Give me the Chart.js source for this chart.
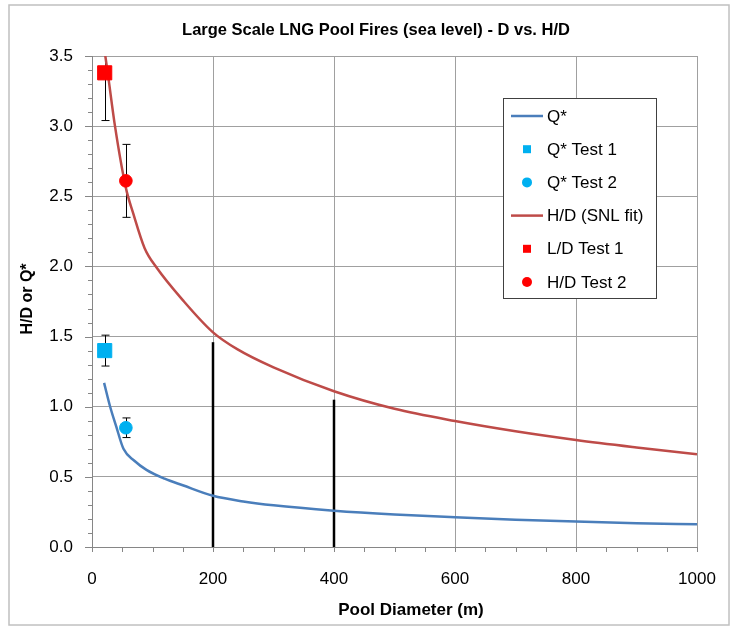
<!DOCTYPE html>
<html>
<head>
<meta charset="utf-8">
<script src="https://cdn.jsdelivr.net/npm/chart.js@4.4.0/dist/chart.umd.min.js"></script>
<style>
  html, body { margin: 0; padding: 0; background: #fff; }
  #marco { position: relative; width: 736px; height: 629px; }
</style>
</head>
<body>
<div id="marco"><canvas id="grafico" width="736" height="629"></canvas></div>
<script>
// Curva Q*
const diamQ = [20, 30, 40, 52, 70, 90, 120, 150, 200, 250, 300, 400, 500, 600, 700, 800, 900, 1000];
const qStar = [1.17, 1.00, 0.86, 0.70, 0.615, 0.55, 0.487, 0.44, 0.365, 0.325, 0.297, 0.259, 0.232, 0.212, 0.195, 0.181, 0.170, 0.162];

// Curva H/D (SNL fit)
const diamHD = [20, 26, 38, 56, 68, 87, 107, 150, 200, 240, 300, 400, 500, 600, 700, 800, 900, 1000];
const hdFit = [3.56, 3.38, 3.00, 2.56, 2.38, 2.13, 1.99, 1.76, 1.53, 1.41, 1.28, 1.11, 0.985, 0.898, 0.825, 0.763, 0.71, 0.661];

// Ensayos Phoenix (diametro, valor, barra de error)
const testD = [21, 56];
const qStarTest = [1.40, 0.85];
const qStarErr = [0.11, 0.07];
const hdTest = [3.38, 2.61];
const hdErr = [0.34, 0.26];

// Lineas verticales negras
const markerD = [200, 400];
const markerTop = [1.46, 1.05];

const yTicks = [0, 0.5, 1.0, 1.5, 2.0, 2.5, 3.0, 3.5];
const xTicks = [0, 200, 400, 600, 800, 1000];

const AZUL = '#4A7EBB';
const ROJO = '#BE4B48';
const CELESTE = '#00B0F0';
const ROJO_VIVO = '#FF0000';
const FUENTE = "'Liberation Sans', Arial, sans-serif";

function puntos(xs, ys) {
    return xs.map((x, i) => ({ x: x, y: ys[i] }));
}

const datasets = [
    { label: 'Q*', data: puntos(diamQ, qStar), borderColor: AZUL, borderWidth: 2.5,
      pointRadius: 0, cubicInterpolationMode: 'monotone', order: 2, leyenda: 'linea' },
    { label: 'Q* Test 1', data: [{ x: testD[0], y: qStarTest[0] }], errores: [qStarErr[0]],
      backgroundColor: CELESTE, borderColor: CELESTE, showLine: false, pointStyle: 'rect',
      pointRadius: 10, pointHoverRadius: 10, order: 0, leyenda: 'rect' },
    { label: 'Q* Test 2', data: [{ x: testD[1], y: qStarTest[1] }], errores: [qStarErr[1]],
      backgroundColor: CELESTE, borderColor: CELESTE, showLine: false, pointStyle: 'circle',
      pointRadius: 6.3, pointHoverRadius: 6.3, order: 0, leyenda: 'circle' },
    { label: 'H/D (SNL fit)', data: puntos(diamHD, hdFit), borderColor: ROJO, borderWidth: 2.5,
      pointRadius: 0, cubicInterpolationMode: 'monotone', order: 2, leyenda: 'linea' },
    { label: 'L/D Test 1', data: [{ x: testD[0], y: hdTest[0] }], errores: [hdErr[0]],
      backgroundColor: ROJO_VIVO, borderColor: ROJO_VIVO, showLine: false, pointStyle: 'rect',
      pointRadius: 10, pointHoverRadius: 10, order: 0, leyenda: 'rect' },
    { label: 'H/D Test 2', data: [{ x: testD[1], y: hdTest[1] }], errores: [hdErr[1]],
      backgroundColor: ROJO_VIVO, borderColor: ROJO_VIVO, showLine: false, pointStyle: 'circle',
      pointRadius: 6.3, pointHoverRadius: 6.3, order: 0, leyenda: 'circle' }
];

// las dos lineas negras verticales
markerD.forEach((d, i) => {
    datasets.push({ label: 'marca ' + d, data: [{ x: d, y: 0 }, { x: d, y: markerTop[i] }],
        borderColor: '#000', borderWidth: 2.5, pointRadius: 0, order: 3 });
});

const extras = {
    id: 'extras',
    beforeDraw(chart) {
        const ctx = chart.ctx;
        ctx.save();
        ctx.fillStyle = '#fff';
        ctx.fillRect(0, 0, chart.width, chart.height);
        ctx.strokeStyle = '#c0c0c0';
        ctx.lineWidth = 1.5;
        ctx.strokeRect(9, 5, 720, 620);
        ctx.restore();
    },
    beforeDatasetsDraw(chart) {
        // barras de error
        const ctx = chart.ctx;
        const xs = chart.scales.x, ys = chart.scales.y;
        const area = chart.chartArea;
        ctx.save();
        ctx.beginPath();
        ctx.rect(area.left, area.top, area.right - area.left, area.bottom - area.top);
        ctx.clip();
        ctx.strokeStyle = '#000';
        ctx.lineWidth = 1;
        chart.data.datasets.forEach(ds => {
            if (!ds.errores) return;
            ds.data.forEach((p, i) => {
                const px = Math.round(xs.getPixelForValue(p.x)) + 0.5;
                const top = ys.getPixelForValue(p.y + ds.errores[i]);
                const bot = ys.getPixelForValue(p.y - ds.errores[i]);
                ctx.beginPath();
                ctx.moveTo(px, top); ctx.lineTo(px, bot);
                ctx.moveTo(px - 4, top); ctx.lineTo(px + 4, top);
                ctx.moveTo(px - 4, bot); ctx.lineTo(px + 4, bot);
                ctx.stroke();
            });
        });
        ctx.restore();
    },
    afterDraw(chart) {
        const ctx = chart.ctx;
        const xs = chart.scales.x, ys = chart.scales.y;
        const area = chart.chartArea;
        ctx.save();

        // marcas menores y mayores de los ejes
        ctx.strokeStyle = '#868686';
        ctx.lineWidth = 1;
        ctx.beginPath();
        for (let k = 0; k <= 35; k++) {
            const py = Math.round(ys.getPixelForValue(k / 10)) + 0.5;
            const largo = (k % 5 === 0) ? 7 : 4;
            ctx.moveTo(area.left - largo, py);
            ctx.lineTo(area.left, py);
        }
        for (let v = 0; v <= 1000; v += 50) {
            const px = Math.round(xs.getPixelForValue(v)) + 0.5;
            ctx.moveTo(px, area.bottom);
            ctx.lineTo(px, area.bottom + 5);
        }
        ctx.stroke();

        // titulos
        ctx.fillStyle = '#000';
        ctx.textAlign = 'center';
        ctx.textBaseline = 'middle';
        ctx.font = 'bold 16.5px ' + FUENTE;
        ctx.fillText('Large Scale LNG Pool Fires (sea level) - D vs. H/D', 376, 30);
        ctx.font = 'bold 17px ' + FUENTE;
        ctx.fillText('Pool Diameter (m)', 411, 610);
        ctx.save();
        ctx.translate(28, 299);
        ctx.rotate(-Math.PI / 2);
        ctx.font = 'bold 16px ' + FUENTE;
        ctx.fillText('H/D or Q*', 0, 0);
        ctx.restore();

        // leyenda
        const caja = { x: 503.5, y: 98.5, w: 153, h: 200 };
        ctx.fillStyle = '#fff';
        ctx.fillRect(caja.x, caja.y, caja.w, caja.h);
        ctx.strokeStyle = '#404040';
        ctx.lineWidth = 1;
        ctx.strokeRect(caja.x, caja.y, caja.w, caja.h);
        ctx.font = '17px ' + FUENTE;
        ctx.textAlign = 'left';
        let fila = 0;
        chart.data.datasets.forEach(ds => {
            if (!ds.leyenda) return;
            const cy = 116 + fila * 33.2;
            if (ds.leyenda === 'linea') {
                ctx.strokeStyle = ds.borderColor;
                ctx.lineWidth = 2.5;
                ctx.beginPath();
                ctx.moveTo(511, cy); ctx.lineTo(543, cy);
                ctx.stroke();
            } else if (ds.leyenda === 'rect') {
                ctx.fillStyle = ds.backgroundColor;
                ctx.fillRect(523, cy - 4, 8, 8);
            } else {
                ctx.fillStyle = ds.backgroundColor;
                ctx.beginPath();
                ctx.arc(527, cy, 5, 0, Math.PI * 2);
                ctx.fill();
            }
            ctx.fillStyle = '#000';
            ctx.fillText(ds.label, 547, cy + 1);
            fila++;
        });
        ctx.restore();
    }
};

Chart.defaults.font.family = FUENTE;

new Chart(document.getElementById('grafico'), {
    type: 'line',
    data: { datasets: datasets },
    options: {
        responsive: false,
        animation: false,
        layout: { padding: { top: 56, right: 39, left: 0, bottom: 0 } },
        plugins: { legend: { display: false }, title: { display: false }, tooltip: { enabled: false } },
        scales: {
            x: {
                type: 'linear', min: 0, max: 1000,
                afterBuildTicks: s => { s.ticks = xTicks.map(v => ({ value: v })); },
                afterFit: s => { s.height = 82; s.paddingLeft = 0; s.paddingRight = 0; },
                grid: { color: '#a0a0a0', lineWidth: 1, drawTicks: false },
                border: { color: '#868686', width: 1 },
                ticks: { color: '#000', font: { size: 17 }, padding: 22, maxRotation: 0,
                         callback: v => String(v) }
            },
            y: {
                type: 'linear', min: 0, max: 3.5,
                afterBuildTicks: s => { s.ticks = yTicks.map(v => ({ value: v })); },
                afterFit: s => { s.width = 92; s.paddingTop = 0; s.paddingBottom = 0; },
                grid: { color: '#a0a0a0', lineWidth: 1, drawTicks: false },
                border: { color: '#868686', width: 1 },
                ticks: { color: '#000', font: { size: 17 }, padding: 19, callback: v => v.toFixed(1) }
            }
        }
    },
    plugins: [extras]
});
</script>
</body>
</html>
